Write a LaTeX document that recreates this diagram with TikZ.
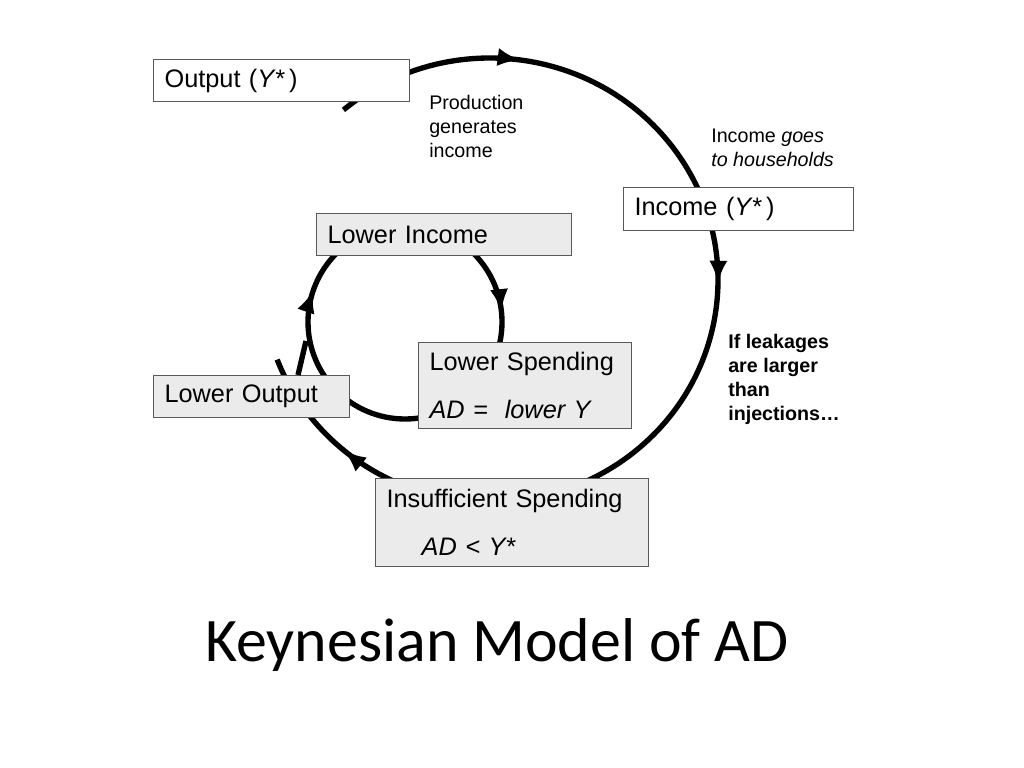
\documentclass[tikz,border=0pt]{standalone}
\usepackage{fontspec}
\setmainfont{Liberation Sans}
\newfontfamily\titlefont{Carlito}
\usetikzlibrary{arrows.meta, decorations.markings}

\tikzset{
  flow/.style={line width=3.8pt},
  box/.style={draw=black!65, line width=0.8pt, fill=white, anchor=north west,
    inner xsep=0.275cm, inner ysep=0pt, align=left, font=\fontsize{18}{34}\selectfont},
  greybox/.style={box, fill=black!8},
  note/.style={anchor=north west, inner sep=0pt, align=left, font=\fontsize{14}{17}\selectfont},
  head/.tip={Latex[length=16pt,width=13pt]}
}

\begin{document}
\begin{tikzpicture}[x=0.025cm, y=0.025cm]
\useasboundingbox (0,0) rectangle (1024,-768);

\coordinate (bigc) at (490,-280);
\coordinate (smallc) at (405,-322);
\coordinate (stub) at (306,-341);

% outer loop
\draw[flow, decoration={markings,
    mark=at position 0.166 with {\arrow{head}},
    mark=at position 0.453 with {\arrow{head}},
    mark=at position 0.9 with {\arrow{head}}}, postaction={decorate}]
  (bigc) ++(130:228 and 222) arc[start angle=130, end angle=-159, x radius=228, y radius=222];

% inner loop
\draw[flow, decoration={markings,
    mark=at position 0.053 with {\arrow{head}},
    mark=at position 0.483 with {\arrow{head}}}, postaction={decorate}]
  (smallc) ++(180:97) arc[start angle=180, end angle=-180, radius=97];

\node[box, text width=5.85cm, minimum height=1.05cm] (output) at (153,-59) {Output (\textit{Y*}\,)};
\node[box, text width=5.2cm, minimum height=1.075cm] (income) at (623,-187) {Income (\textit{Y*}\,)};
\node[greybox, text width=5.825cm, minimum height=1.05cm] (lowinc) at (316,-213) {Lower Income};
\node[greybox, text width=4.775cm, minimum height=2.15cm] (lowspend) at (418,-342) {Lower Spending\\\textit{AD =\ \ lower Y}};
\node[greybox, text width=4.35cm, minimum height=1.05cm] (lowout) at (153,-375) {Lower Output};
\node[greybox, text width=6.275cm, minimum height=2.2cm] (insuff) at (375,-478) {Insufficient Spending\\\hspace*{25pt}\textit{AD < Y*}};

\draw[flow] (lowout.north west) ++(145,0) -- (stub);

\node[note] (prod) at (429,-95) {Production\\generates\\income};
\node[note] (house) at (711,-129) {Income \textit{goes}\\\textit{to households}};
\node[note, font=\fontsize{14}{17}\selectfont\bfseries] (leak) at (728,-334) {If leakages\\are larger\\than\\injections…};

\node (title) at (497,-645) {\titlefont\fontsize{44}{50}\selectfont Keynesian Model of AD};
\end{tikzpicture}
\end{document}
